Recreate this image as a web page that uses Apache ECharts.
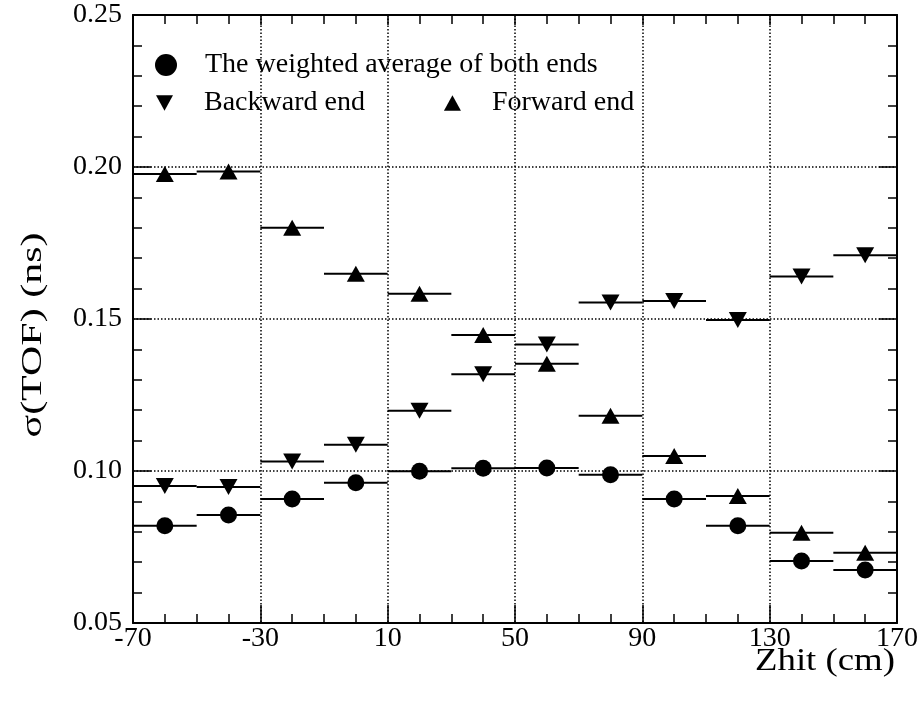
<!DOCTYPE html>
<html>
<head>
<meta charset="utf-8">
<script src="https://cdn.jsdelivr.net/npm/echarts@6/dist/echarts.min.js"></script>
<style>
html,body{margin:0;padding:0;background:#fff;}
#main{width:923px;height:703px;}
</style>
</head>
<body>
<div id="main"></div>
<script>
// ---- data ----
const zhitCenters = [-60, -40, -20, 0, 20, 40, 60, 80, 100, 120, 140, 160];
const binHalfWidth = 10;
const weightedAverage = [0.0820, 0.0855, 0.0908, 0.0961, 0.0999, 0.1009, 0.1010, 0.0988, 0.0908, 0.0820, 0.0704, 0.0674];
const backwardEnd = [0.0951, 0.0947, 0.1031, 0.1086, 0.1198, 0.1318, 0.1416, 0.1554, 0.1559, 0.1497, 0.1640, 0.1710];
const forwardEnd = [0.1977, 0.1985, 0.1800, 0.1649, 0.1583, 0.1447, 0.1353, 0.1182, 0.1049, 0.0918, 0.0797, 0.0731];
const seriesNames = ['The weighted average of both ends', 'Backward end', 'Forward end'];
const xTitle = 'Zhit (cm)';
const yTitle = 'σ(TOF) (ns)';

const FONT = 'Liberation Serif';
const DOWN_TRIANGLE = 'path://M0,0 L20,0 L10,18 Z';
const UP_TRIANGLE = 'path://M10,0 L20,18 L0,18 Z';
const pairs = arr => zhitCenters.map((x, i) => [x, arr[i]]);

function errorBarSeries(arr) {
  return {
    type: 'custom',
    data: pairs(arr),
    silent: true,
    z: 2,
    renderItem: function (params, api) {
      const x = api.value(0), y = api.value(1);
      const p1 = api.coord([x - binHalfWidth, y]);
      const p2 = api.coord([x + binHalfWidth, y]);
      return {
        type: 'line',
        shape: { x1: p1[0], y1: p1[1], x2: p2[0], y2: p2[1] },
        style: { stroke: '#000', lineWidth: 2 }
      };
    }
  };
}

const chart = echarts.init(document.getElementById('main'), null, { renderer: 'canvas' });

const gridLine = { show: true, lineStyle: { color: '#000', width: 1.5, type: [1.5, 2] } };

chart.setOption({
  animation: false,
  backgroundColor: '#fff',
  textStyle: { fontFamily: FONT },
  grid: { left: 133, top: 15, width: 764, height: 608, containLabel: false, outerBoundsMode: 'none' },
  legend: [
    {
      data: [{ name: seriesNames[0], icon: 'circle' }],
      left: 155, top: 51, padding: 0,
      itemWidth: 22, itemHeight: 23,
      textStyle: { fontFamily: FONT, fontSize: 28, color: '#000', padding: [0, 0, 0, 23] },
      selectedMode: false
    },
    {
      data: [{ name: seriesNames[1], icon: DOWN_TRIANGLE }, { name: seriesNames[2], icon: UP_TRIANGLE }],
      left: 156, top: 89, padding: 0,
      itemWidth: 17, itemHeight: 18, itemGap: 79,
      textStyle: { fontFamily: FONT, fontSize: 28, color: '#000', padding: [0, 0, 0, 26] },
      selectedMode: false
    }
  ],
  xAxis: [
    {
      type: 'value', min: -70, max: 170, interval: 40, position: 'bottom',
      axisLine: { show: true, onZero: false, lineStyle: { color: '#000', width: 2 } },
      axisTick: { show: true, inside: true, length: 18, lineStyle: { color: '#000', width: 1.5 } },
      minorTick: { show: true, splitNumber: 4, length: 9, lineStyle: { color: '#000', width: 1.5 } },
      axisLabel: { show: true, margin: 2, fontFamily: FONT, fontSize: 28, color: '#000' },
      splitLine: gridLine
    },
    {
      type: 'value', min: -70, max: 170, interval: 40, position: 'top',
      axisLine: { show: true, onZero: false, lineStyle: { color: '#000', width: 2 } },
      axisTick: { show: true, inside: true, length: 10, lineStyle: { color: '#000', width: 1.5 } },
      minorTick: { show: true, splitNumber: 4, length: 9, lineStyle: { color: '#000', width: 1.5 } },
      axisLabel: { show: false },
      splitLine: { show: false }
    }
  ],
  yAxis: [
    {
      type: 'value', min: 0.05, max: 0.25, interval: 0.05, position: 'left',
      axisLine: { show: true, onZero: false, lineStyle: { color: '#000', width: 2 } },
      axisTick: { show: true, inside: true, length: 18, lineStyle: { color: '#000', width: 1.5 } },
      minorTick: { show: true, splitNumber: 5, length: 9, lineStyle: { color: '#000', width: 1.5 } },
      axisLabel: { show: true, margin: 11, fontFamily: FONT, fontSize: 28, color: '#000',
        formatter: v => v.toFixed(2) },
      splitLine: gridLine
    },
    {
      type: 'value', min: 0.05, max: 0.25, interval: 0.05, position: 'right',
      axisLine: { show: true, onZero: false, lineStyle: { color: '#000', width: 2 } },
      axisTick: { show: true, inside: true, length: 18, lineStyle: { color: '#000', width: 1.5 } },
      minorTick: { show: true, splitNumber: 5, length: 9, lineStyle: { color: '#000', width: 1.5 } },
      axisLabel: { show: false },
      splitLine: { show: false }
    }
  ],
  graphic: [
    {
      type: 'text', x: 895, y: 662, scaleX: 1.15,
      style: { text: xTitle, fontFamily: FONT, fontSize: 32, fill: '#000', align: 'right', verticalAlign: 'middle' }
    },
    {
      type: 'text', x: 33, y: 335, rotation: Math.PI / 2, scaleX: 1.4,
      style: { text: yTitle, fontFamily: FONT, fontSize: 30, fill: '#000', align: 'center', verticalAlign: 'middle' }
    }
  ],
  series: [
    errorBarSeries(weightedAverage),
    errorBarSeries(backwardEnd),
    errorBarSeries(forwardEnd),
    {
      name: seriesNames[0], type: 'scatter', data: pairs(weightedAverage), z: 3,
      symbol: 'circle', symbolSize: 17, itemStyle: { color: '#000', opacity: 1 }
    },
    {
      name: seriesNames[1], type: 'scatter', data: pairs(backwardEnd), z: 3,
      symbol: 'triangle', symbolSize: [18, 16], symbolRotate: 180, itemStyle: { color: '#000', opacity: 1 }
    },
    {
      name: seriesNames[2], type: 'scatter', data: pairs(forwardEnd), z: 3,
      symbol: 'triangle', symbolSize: [18, 16], itemStyle: { color: '#000', opacity: 1 }
    }
  ]
});
</script>
</body>
</html>
